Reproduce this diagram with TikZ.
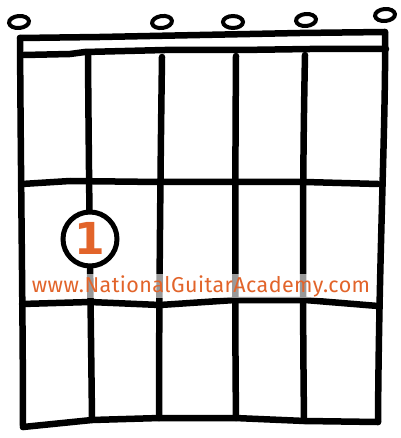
\documentclass[tikz,border=0pt]{standalone}
\usepackage{fontspec}
\usetikzlibrary{shapes.geometric}
\setmainfont{Fira Sans}
\newfontfamily\urlfont{Fira Sans}
\newfontfamily\digitfont{DejaVu Sans}
\definecolor{nga}{HTML}{E2642A}
\begin{document}
\begin{tikzpicture}[x=1pt,y=-1pt,
  ink/.style={line width=6.5pt,line cap=round,line join=round,black},
  opencirc/.style={draw,line width=4pt,ellipse,minimum width=20pt,minimum height=12pt,inner sep=0pt},
  finger/.style={draw,line width=5pt,circle,fill=white,minimum size=54pt,inner sep=0pt,text=nga,font=\digitfont\bfseries\fontsize{44}{44}\selectfont}]
\useasboundingbox (0,0) rectangle (400,438);
% strings
\draw[ink] (20,38) .. controls (21,200) and (23,330) .. (23,427);
\draw[ink] (88,55) .. controls (89,200) and (91,330) .. (92,420);
\draw[ink] (162,57) .. controls (160,200) and (159,330) .. (159,418);
\draw[ink] (236,56) .. controls (235,200) and (235,330) .. (236,418);
\draw[ink] (305,55) .. controls (302,200) and (303,330) .. (304,421);
\draw[ink] (385,32) .. controls (386,120) and (379,250) .. (378,422);
% nut
\draw[ink] (20,38) -- (100,37) -- (200,35) -- (300,33) -- (385,32);
\draw[ink] (24,55) -- (70,54) -- (85,52) -- (165,50) -- (240,50) -- (310,49) -- (386,49);
% frets
\draw[ink] (22,184) -- (70,181) -- (160,182) -- (235,182) -- (305,182) -- (378,184);
\draw[ink] (22,304) -- (90,302) -- (160,305) -- (235,300) -- (305,300) -- (378,306);
\draw[ink] (23,427) -- (92,420) -- (160,418) -- (235,418) -- (305,421) -- (378,422);
% open strings
\node[opencirc,rotate=5] (o1) at (19,22) {};
\node[opencirc,rotate=8] (o3) at (162,22) {};
\node[opencirc] (o4) at (233,22) {};
\node[opencirc,rotate=5] (o5) at (306,20) {};
\node[opencirc,rotate=5] (o6) at (385,15) {};
% finger
\node[finger] (f1) at (90,239) {\raisebox{1pt}{1}};
% watermark
\node[fill=white,fill opacity=0.6,text opacity=1,text=nga,inner sep=1pt,font=\urlfont\fontsize{21.5}{22}\selectfont] (url) at (201,286) {\addfontfeature{LetterSpace=2}www.NationalGuitarAcademy.com};
\end{tikzpicture}
\end{document}
